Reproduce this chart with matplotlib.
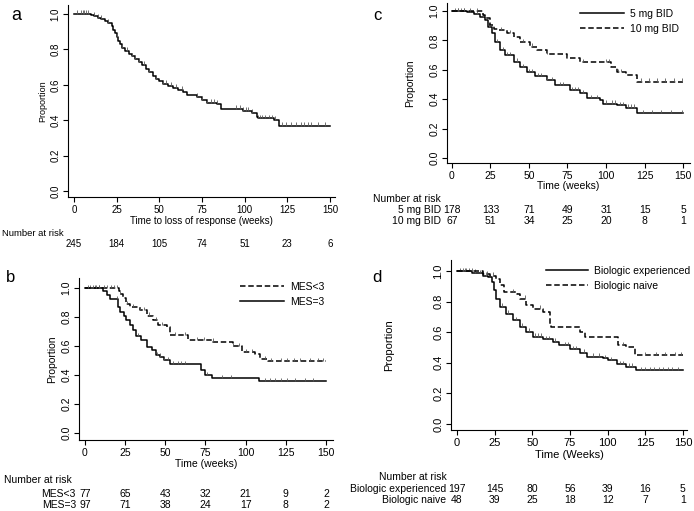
import numpy as np
import matplotlib
matplotlib.use("Agg")
import matplotlib.pyplot as plt

plt.rcParams['font.family'] = ['Liberation Sans', 'DejaVu Sans']

# === DATA ===
ticks_x = [0, 25, 50, 75, 100, 125, 150]

# panel a: all patients
a_t = [0, 10, 12, 14, 16, 18, 20, 22, 23, 24, 25, 26, 27, 28, 30, 32, 34, 36, 38, 40, 42, 44, 46,
       48, 50, 52, 55, 58, 61, 64, 66, 72, 75, 78, 84, 86, 99, 104, 107, 108, 117, 120, 150]
a_s = [1.0, 0.995, 0.99, 0.98, 0.97, 0.96, 0.95, 0.93, 0.91, 0.89, 0.87, 0.85, 0.83, 0.81, 0.79,
       0.775, 0.76, 0.745, 0.73, 0.71, 0.69, 0.67, 0.65, 0.635, 0.62, 0.605, 0.595, 0.58, 0.57,
       0.56, 0.545, 0.53, 0.515, 0.5, 0.49, 0.465, 0.45, 0.44, 0.42, 0.41, 0.40, 0.367, 0.367]
a_cens = [2, 4, 5, 6, 7, 8, 12, 14, 16, 20, 25, 28, 31, 34, 36, 38, 41, 44, 48, 52, 54, 57, 60, 63,
          72, 75, 78, 80, 82, 84, 95, 97, 99, 101, 102, 104, 108, 109, 110, 112, 114, 116, 118,
          122, 124, 127, 130, 133, 135, 137, 139, 143, 147]
a_risk = [245, 184, 105, 74, 51, 23, 6]

# panel b: MES<3 vs MES=3
b1_t = [0, 21, 22, 23.5, 25.5, 28, 34, 38.5, 42.5, 45.5, 51, 53, 64, 79.5, 92, 98, 106, 109, 114, 150]
b1_s = [1.0, 0.98, 0.96, 0.93, 0.89, 0.87, 0.85, 0.81, 0.78, 0.745, 0.73, 0.676, 0.64, 0.63,
        0.60, 0.56, 0.545, 0.51, 0.495, 0.495]
b1_cens = [3, 6, 9, 12, 14, 16, 18, 20, 22, 26, 30, 34, 37, 40, 44, 48, 56, 62, 70, 74, 80, 92,
           96, 100, 104, 112, 116, 122, 126, 130, 134, 140, 145, 148]
b2_t = [0, 11, 13.5, 15.5, 20.5, 22, 24, 25.5, 28, 30, 32, 35, 38.5, 41.5, 44.5, 47, 49, 53,
        72.5, 75, 79, 108.5, 150]
b2_s = [1.0, 0.98, 0.95, 0.925, 0.87, 0.835, 0.81, 0.78, 0.745, 0.71, 0.668, 0.64, 0.595,
        0.572, 0.538, 0.527, 0.503, 0.476, 0.435, 0.40, 0.38, 0.357, 0.357]
b2_cens = [2, 5, 7, 9, 20, 33, 45, 47, 49, 52, 55, 58, 60, 62, 76, 85, 91, 112, 115, 118, 122,
           126, 131, 137, 142]
b1_risk = [77, 65, 43, 32, 21, 9, 2]
b2_risk = [97, 71, 38, 24, 17, 8, 2]

# panel c: 5 mg BID vs 10 mg BID
c1_t = [0, 10, 14, 18, 21.5, 23.5, 26, 28, 31, 34.5, 40, 44, 48.5, 54, 61.5, 67, 76.5, 83, 87.5,
        96, 98, 107, 113, 120, 150]
c1_s = [1.0, 0.99, 0.98, 0.96, 0.94, 0.893, 0.85, 0.79, 0.734, 0.70, 0.655, 0.62, 0.586, 0.557,
        0.53, 0.495, 0.46, 0.44, 0.405, 0.393, 0.37, 0.36, 0.343, 0.307, 0.307]
c1_cens = [2, 4, 6, 8, 12, 16, 20, 24, 29, 33, 36, 38, 42, 46, 50, 52, 56, 58, 62, 65, 70, 72,
           78, 80, 82, 85, 90, 94, 100, 104, 106, 109, 111, 114, 116, 118, 124, 130, 136, 142, 149]
c2_t = [0, 20, 21.5, 25, 27, 30, 35.5, 40, 44, 50.5, 55, 61.5, 74.5, 83, 103.5, 107, 113, 120, 150]
c2_s = [1.0, 0.97, 0.95, 0.905, 0.88, 0.87, 0.848, 0.825, 0.79, 0.757, 0.734, 0.71, 0.677,
        0.654, 0.62, 0.586, 0.564, 0.52, 0.52]
c2_cens = [4, 8, 12, 16, 32, 38, 46, 52, 62, 75, 85, 100, 102, 108, 110, 123, 128, 133, 138, 144, 149]
c1_risk = [178, 133, 71, 49, 31, 15, 5]
c2_risk = [67, 51, 34, 25, 20, 8, 1]

# panel d: biologic experienced vs naive
d1_t = [0, 10, 13, 17.5, 20.5, 23, 24.5, 26, 28.5, 32.5, 37, 41.5, 46, 50.5, 57, 63.5, 68, 75,
        81.5, 86, 97, 100, 106, 112.5, 119, 150]
d1_s = [1.0, 0.99, 0.985, 0.97, 0.96, 0.93, 0.874, 0.82, 0.766, 0.72, 0.68, 0.636, 0.603, 0.57,
        0.553, 0.538, 0.516, 0.488, 0.466, 0.44, 0.43, 0.419, 0.393, 0.375, 0.35, 0.35]
d1_cens = [2, 4, 6, 8, 12, 15, 19, 30, 34, 39, 43, 48, 52, 54, 56, 59, 61, 65, 72, 74, 77, 79,
           84, 90, 94, 98, 102, 108, 110, 114, 116, 122, 125, 128, 131, 134, 137, 140, 143, 147]
d2_t = [0, 17, 22, 26, 28.5, 31.5, 39.5, 41.5, 46, 50.5, 57, 61.5, 62.5, 81.5, 85, 107, 112.5, 118, 150]
d2_s = [1.0, 0.98, 0.97, 0.95, 0.907, 0.863, 0.85, 0.82, 0.776, 0.755, 0.733, 0.657, 0.636,
        0.603, 0.566, 0.516, 0.501, 0.45, 0.45]
d2_cens = [5, 10, 20, 24, 37, 45, 55, 110, 125, 132, 138, 145, 149]
d1_risk = [197, 145, 80, 56, 39, 16, 5]
d2_risk = [48, 39, 25, 18, 12, 7, 1]

W, H = 694, 511
fig = plt.figure(figsize=(W / 100, H / 100), dpi=100)


def px_axes(left, top, right, bottom):
    return fig.add_axes([left / W, 1 - bottom / H, (right - left) / W, (bottom - top) / H])


def surv_at(t, times, surv):
    idx = np.searchsorted(times, t, side='right') - 1
    return np.array(surv)[idx]


def km(ax, times, surv, cens, dashed=False, label=None):
    ls = (0, (3.6, 1.8)) if dashed else '-'
    ax.step(times, surv, where='post', color='black', lw=1.1, linestyle=ls, label=label)
    ys = surv_at(np.array(cens), times, surv)
    ax.vlines(cens, ys, ys + 0.022, color='0.35', lw=0.6)


def style(ax, xlim, ylim, fs):
    ax.set_xlim(*xlim)
    ax.set_ylim(*ylim)
    for s in ['top', 'right']:
        ax.spines[s].set_visible(False)
    for s in ['left', 'bottom']:
        ax.spines[s].set_linewidth(0.8)
    ax.set_xticks(ticks_x)
    ax.set_yticks([0, 0.2, 0.4, 0.6, 0.8, 1.0])
    ax.set_yticklabels(['0.0', '0.2', '0.4', '0.6', '0.8', '1.0'], rotation=90, va='center')
    ax.tick_params(labelsize=fs, length=3.5, width=0.8, pad=2)


def txt(x, y, s, fs, ha='center'):
    fig.text(x / W, 1 - y / H, s, fontsize=fs, ha=ha, va='center')


def risk_row(ax, y, vals, fs):
    for t, v in zip(ticks_x, vals):
        xp = ax.transData.transform((t, 0))[0]
        fig.text(xp / W, 1 - y / H, str(v), fontsize=fs, ha='center', va='center')


# --- panel a ---
ax = px_axes(68, 5, 335, 197)
km(ax, a_t, a_s, a_cens)
style(ax, (-3.5, 152.9), (-0.034, 1.051), 7)
ax.set_xlabel('Time to loss of response (weeks)', fontsize=7, labelpad=1)
ax.set_ylabel('Proportion', fontsize=6.5, labelpad=2.5)
txt(16, 15, 'a', 13)
txt(2, 233, 'Number at risk', 6.8, ha='left')
risk_row(ax, 244, a_risk, 7)

# --- panel b ---
ax = px_axes(79, 278, 333, 440)
km(ax, b1_t, b1_s, b1_cens, dashed=True, label='MES<3')
km(ax, b2_t, b2_s, b2_cens, label='MES=3')
style(ax, (-3.7, 154.4), (-0.048, 1.069), 7.5)
ax.set_xlabel('Time (weeks)', fontsize=7.5, labelpad=1)
ax.set_ylabel('Proportion', fontsize=7.5, labelpad=3)
ax.legend(loc='upper left', bbox_to_anchor=(240 / W, 1 - 282 / H), bbox_transform=fig.transFigure,
          frameon=False, fontsize=7.5, handlelength=4.2, handletextpad=0.6, labelspacing=0.45,
          borderaxespad=0, borderpad=0)
txt(11, 277, 'b', 12)
txt(4, 480, 'Number at risk', 7.5, ha='left')
txt(76, 494, 'MES<3', 7.5, ha='right')
txt(76, 505, 'MES=3', 7.5, ha='right')
risk_row(ax, 494, b1_risk, 7.5)
risk_row(ax, 505, b2_risk, 7.5)

# --- panel c ---
ax = px_axes(447, 3, 690, 163)
km(ax, c1_t, c1_s, c1_cens, label='5 mg BID')
km(ax, c2_t, c2_s, c2_cens, dashed=True, label='10 mg BID')
style(ax, (-3.2, 154.5), (-0.034, 1.054), 7.5)
ax.set_xlabel('Time (weeks)', fontsize=7.5, labelpad=0)
ax.set_ylabel('Proportion', fontsize=7.5, labelpad=10)
ax.legend(loc='upper left', bbox_to_anchor=(580 / W, 1 - 9 / H), bbox_transform=fig.transFigure,
          frameon=False, fontsize=7.5, handlelength=4.2, handletextpad=0.6, labelspacing=0.45,
          borderaxespad=0, borderpad=0)
txt(377, 16, 'c', 12)
txt(441, 199, 'Number at risk', 7.5, ha='right')
txt(441, 210, '5 mg BID', 7.5, ha='right')
txt(441, 221, '10 mg BID', 7.5, ha='right')
risk_row(ax, 210, c1_risk, 7.5)
risk_row(ax, 221, c2_risk, 7.5)

# --- panel d ---
ax = px_axes(451, 260, 687, 430)
km(ax, d1_t, d1_s, d1_cens, label='Biologic experienced')
km(ax, d2_t, d2_s, d2_cens, dashed=True, label='Biologic naive')
style(ax, (-4, 152.7), (-0.039, 1.072), 8)
ax.set_xlabel('Time (Weeks)', fontsize=8, labelpad=2)
ax.set_ylabel('Proportion', fontsize=8, labelpad=28)
ax.legend(loc='upper left', bbox_to_anchor=(546 / W, 1 - 266 / H), bbox_transform=fig.transFigure,
          frameon=False, fontsize=7.5, handlelength=4.0, handletextpad=0.6, labelspacing=0.45,
          borderaxespad=0, borderpad=0)
txt(377, 278, 'd', 12)
txt(447, 477, 'Number at risk', 7.5, ha='right')
txt(446, 489, 'Biologic experienced', 7.5, ha='right')
txt(446, 500, 'Biologic naive', 7.5, ha='right')
risk_row(ax, 489, d1_risk, 7.5)
risk_row(ax, 500, d2_risk, 7.5)

fig.savefig('out.png', dpi=100)
